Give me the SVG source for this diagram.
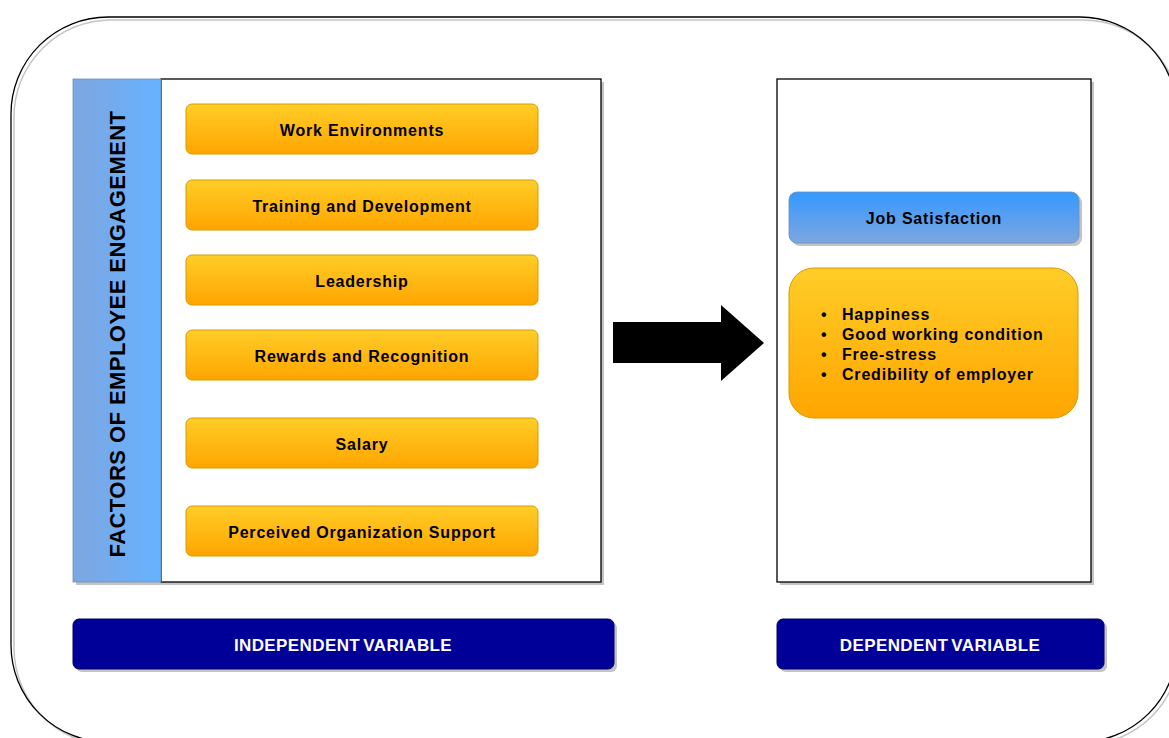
<svg xmlns="http://www.w3.org/2000/svg" width="1169" height="738" viewBox="0 0 1169 738">
<defs>
<linearGradient id="gOrange" x1="0" y1="0" x2="0" y2="1">
<stop offset="0" stop-color="#ffcd28"/>
<stop offset="1" stop-color="#ffa500"/>
</linearGradient>
<linearGradient id="gBlueH" x1="0" y1="0" x2="1" y2="0">
<stop offset="0" stop-color="#7ea6e0"/>
<stop offset="1" stop-color="#66b2ff"/>
</linearGradient>
<linearGradient id="gBlueV" x1="0" y1="0" x2="0" y2="1">
<stop offset="0" stop-color="#3399ff"/>
<stop offset="1" stop-color="#7ea6e0"/>
</linearGradient>
</defs>
<style>
text{font-family:"Liberation Sans",Arial,Helvetica,sans-serif;font-weight:bold;}
.sh{fill:#c4c4c4;}
.panel{fill:#ffffff;stroke:#000000;stroke-width:1.3;}
.item{fill:url(#gOrange);stroke:#d79b00;stroke-width:1;}
.lbl{font-size:16px;fill:#000000;text-anchor:middle;letter-spacing:0.8px;}
.bar{fill:#000099;stroke:#000066;stroke-width:1;}
.barText{font-size:17px;fill:#ffffff;text-anchor:middle;letter-spacing:0.4px;word-spacing:-2px;}
</style>
<rect width="1169" height="738" fill="#ffffff"/>
<g id="outer">
<rect x="14" y="20" width="1166" height="725" rx="97" ry="97" fill="none" stroke="#c4c4c4" stroke-width="1.5"/>
<rect x="11" y="17" width="1166" height="725" rx="97" ry="97" fill="none" stroke="#000000" stroke-width="1.3"/>
</g>
<g id="independent-panel">
<rect class="sh" x="76" y="82" width="528" height="503"/>
<rect class="panel" x="161" y="79" width="440" height="503"/>
<rect x="73" y="79" width="88" height="503" fill="url(#gBlueH)" stroke="#6c8ebf" stroke-width="0.8"/>
<text x="0" y="0" font-size="22" fill="#000000" text-anchor="middle" letter-spacing="0.45" transform="translate(125,334) rotate(-90)">FACTORS OF EMPLOYEE ENGAGEMENT</text>
</g>
<g id="work-environments">
<rect class="item" x="186" y="104" width="352" height="50" rx="6"/>
<text class="lbl" x="362" y="136">Work Environments</text>
</g>
<g id="training">
<rect class="item" x="186" y="180" width="352" height="50" rx="6"/>
<text class="lbl" x="362" y="212">Training and Development</text>
</g>
<g id="leadership">
<rect class="item" x="186" y="255" width="352" height="50" rx="6"/>
<text class="lbl" x="362" y="287">Leadership</text>
</g>
<g id="rewards">
<rect class="item" x="186" y="330" width="352" height="50" rx="6"/>
<text class="lbl" x="362" y="362">Rewards and Recognition</text>
</g>
<g id="salary">
<rect class="item" x="186" y="418" width="352" height="50" rx="6"/>
<text class="lbl" x="362" y="450">Salary</text>
</g>
<g id="perceived">
<rect class="item" x="186" y="506" width="352" height="50" rx="6"/>
<text class="lbl" x="362" y="538">Perceived Organization Support</text>
</g>
<g id="dependent-panel">
<rect class="sh" x="780" y="82" width="314" height="503"/>
<rect class="panel" x="777" y="79" width="314" height="503"/>
</g>
<g id="job-satisfaction">
<rect class="sh" x="792" y="195" width="290" height="51" rx="8"/>
<rect x="789" y="192" width="290" height="51" rx="8" fill="url(#gBlueV)" stroke="#6c8ebf" stroke-width="0.8"/>
<text class="lbl" x="934" y="224">Job Satisfaction</text>
</g>
<g id="satisfaction-list">
<rect class="item" x="789" y="268" width="289" height="150" rx="25"/>
<text font-size="16" fill="#000000" letter-spacing="0.8">
<tspan x="821" y="320">•</tspan><tspan x="842" y="320">Happiness</tspan>
<tspan x="821" y="340">•</tspan><tspan x="842" y="340">Good working condition</tspan>
<tspan x="821" y="360">•</tspan><tspan x="842" y="360">Free-stress</tspan>
<tspan x="821" y="380">•</tspan><tspan x="842" y="380">Credibility of employer</tspan>
</text>
</g>
<g id="connectors">
<polygon points="613,322 721,322 721,305 764,343 721,381 721,363 613,363" fill="#000000"/>
</g>
<g id="independent-variable">
<rect class="sh" x="76" y="622" width="541" height="50" rx="6"/>
<rect class="bar" x="73" y="619" width="541" height="50" rx="6"/>
<text class="barText" x="343" y="651">INDEPENDENT VARIABLE</text>
</g>
<g id="dependent-variable">
<rect class="sh" x="780" y="622" width="327" height="50" rx="6"/>
<rect class="bar" x="777" y="619" width="327" height="50" rx="6"/>
<text class="barText" x="940" y="651">DEPENDENT VARIABLE</text>
</g>
</svg>
